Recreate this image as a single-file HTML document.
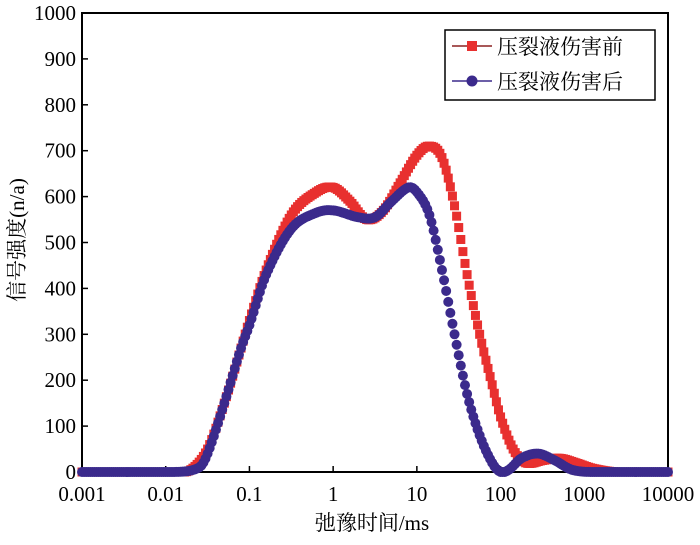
<!DOCTYPE html>
<html><head><meta charset="utf-8"><style>
body{margin:0;background:#fff;width:700px;height:540px;overflow:hidden}
svg text{font-family:"Liberation Serif","Noto Serif CJK SC",serif;fill:#000}
</style></head><body>
<svg id="s" width="700" height="540" xmlns="http://www.w3.org/2000/svg"></svg>
<script>
const s=document.getElementById('s');
const L=82,R=668,T=13,B=472;
const X=lx=>L+(lx+3)*(R-L)/7, Y=v=>B-v*(B-T)/1000;
let h='';
h+=`<rect x="${L}" y="${T}" width="${R-L}" height="${B-T}" fill="none" stroke="#000" stroke-width="2"/>`;
for(let v=0;v<=1000;v+=100){const y=Y(v);h+=`<line x1="${L}" y1="${y}" x2="${L+6}" y2="${y}" stroke="#000" stroke-width="1.5"/><text x="${L-6}" y="${y+7}" font-size="21" text-anchor="end">${v}</text>`;}
const xl=['0.001','0.01','0.1','1','10','100','1000','10000'];
for(let i=0;i<8;i++){const x=X(i-3);h+=`<line x1="${x}" y1="${B}" x2="${x}" y2="${B-6}" stroke="#000" stroke-width="1.5"/><text x="${x}" y="${B+29}" font-size="21" text-anchor="middle">${xl[i]}</text>`;}
h+=`<text x="372" y="530" font-size="21" text-anchor="middle">弛豫时间/ms</text>`;
h+=`<text transform="translate(24,240) rotate(-90)" font-size="21" text-anchor="middle">信号强度(n/a)</text>`;
const red=[[-3,0],[-1.9,0],[-1.7,5],[-1.5,50],[-1.3,150],[-1.1,270],[-1,330],[-0.8,440],[-0.5,560],[-0.2,610],[0,620],[0.2,590],[0.4,550],[0.6,570],[0.8,630],[1,690],[1.15,710],[1.3,685],[1.45,580],[1.6,430],[1.75,300],[1.9,190],[2,120],[2.15,50],[2.3,20],[2.5,25],[2.7,30],[2.9,20],[3.1,8],[3.4,0],[4,0]];
const blue=[[-3,0],[-1.9,0],[-1.6,10],[-1.5,40],[-1.3,150],[-1.1,270],[-1,320],[-0.8,430],[-0.5,530],[-0.2,565],[0,570],[0.3,555],[0.5,555],[0.7,590],[0.9,620],[1,610],[1.15,560],[1.3,440],[1.45,300],[1.6,170],[1.75,80],[1.9,20],[2,0],[2.1,5],[2.25,30],[2.45,40],[2.65,25],[2.85,5],[3.1,0],[4,0]];
function f(p,x){for(let i=0;i<p.length-1;i++){if(x<=p[i+1][0]){const p0=p[Math.max(i-1,0)],p1=p[i],p2=p[i+1],p3=p[Math.min(i+2,p.length-1)];const t=(x-p1[0])/(p2[0]-p1[0]);const m1=(p2[1]-p0[1])/(p2[0]-p0[0]||1)*(p2[0]-p1[0]),m2=(p3[1]-p1[1])/(p3[0]-p1[0]||1)*(p2[0]-p1[0]);const t2=t*t,t3=t2*t;return Math.max(0,(2*t3-3*t2+1)*p1[1]+(t3-2*t2+t)*m1+(-2*t3+3*t2)*p2[1]+(t3-t2)*m2);}}return 0;}
let r='',b='';
for(let lx=-3;lx<=4.0001;lx+=0.025){const x=X(lx);r+=`<rect x="${x-4.5}" y="${Y(f(red,lx))-4.5}" width="9" height="9" fill="#e8302f"/>`;b+=`<circle cx="${x}" cy="${Y(f(blue,lx))}" r="5" fill="#3b2a8c"/>`;}
h+=r+b;
h+=`<rect x="445" y="30" width="210" height="70" fill="#fff" stroke="#000" stroke-width="1.5"/>`;
h+=`<line x1="452" y1="46" x2="492" y2="46" stroke="#8b2020" stroke-width="1.5"/><rect x="467" y="41" width="10" height="10" fill="#e8302f"/><text x="497" y="54" font-size="21">压裂液伤害前</text>`;
h+=`<line x1="452" y1="81" x2="492" y2="81" stroke="#3b2a8c" stroke-width="1.5"/><circle cx="472" cy="81" r="5.5" fill="#3b2a8c"/><text x="497" y="89" font-size="21">压裂液伤害后</text>`;
s.innerHTML=h;
</script>
</body></html>
